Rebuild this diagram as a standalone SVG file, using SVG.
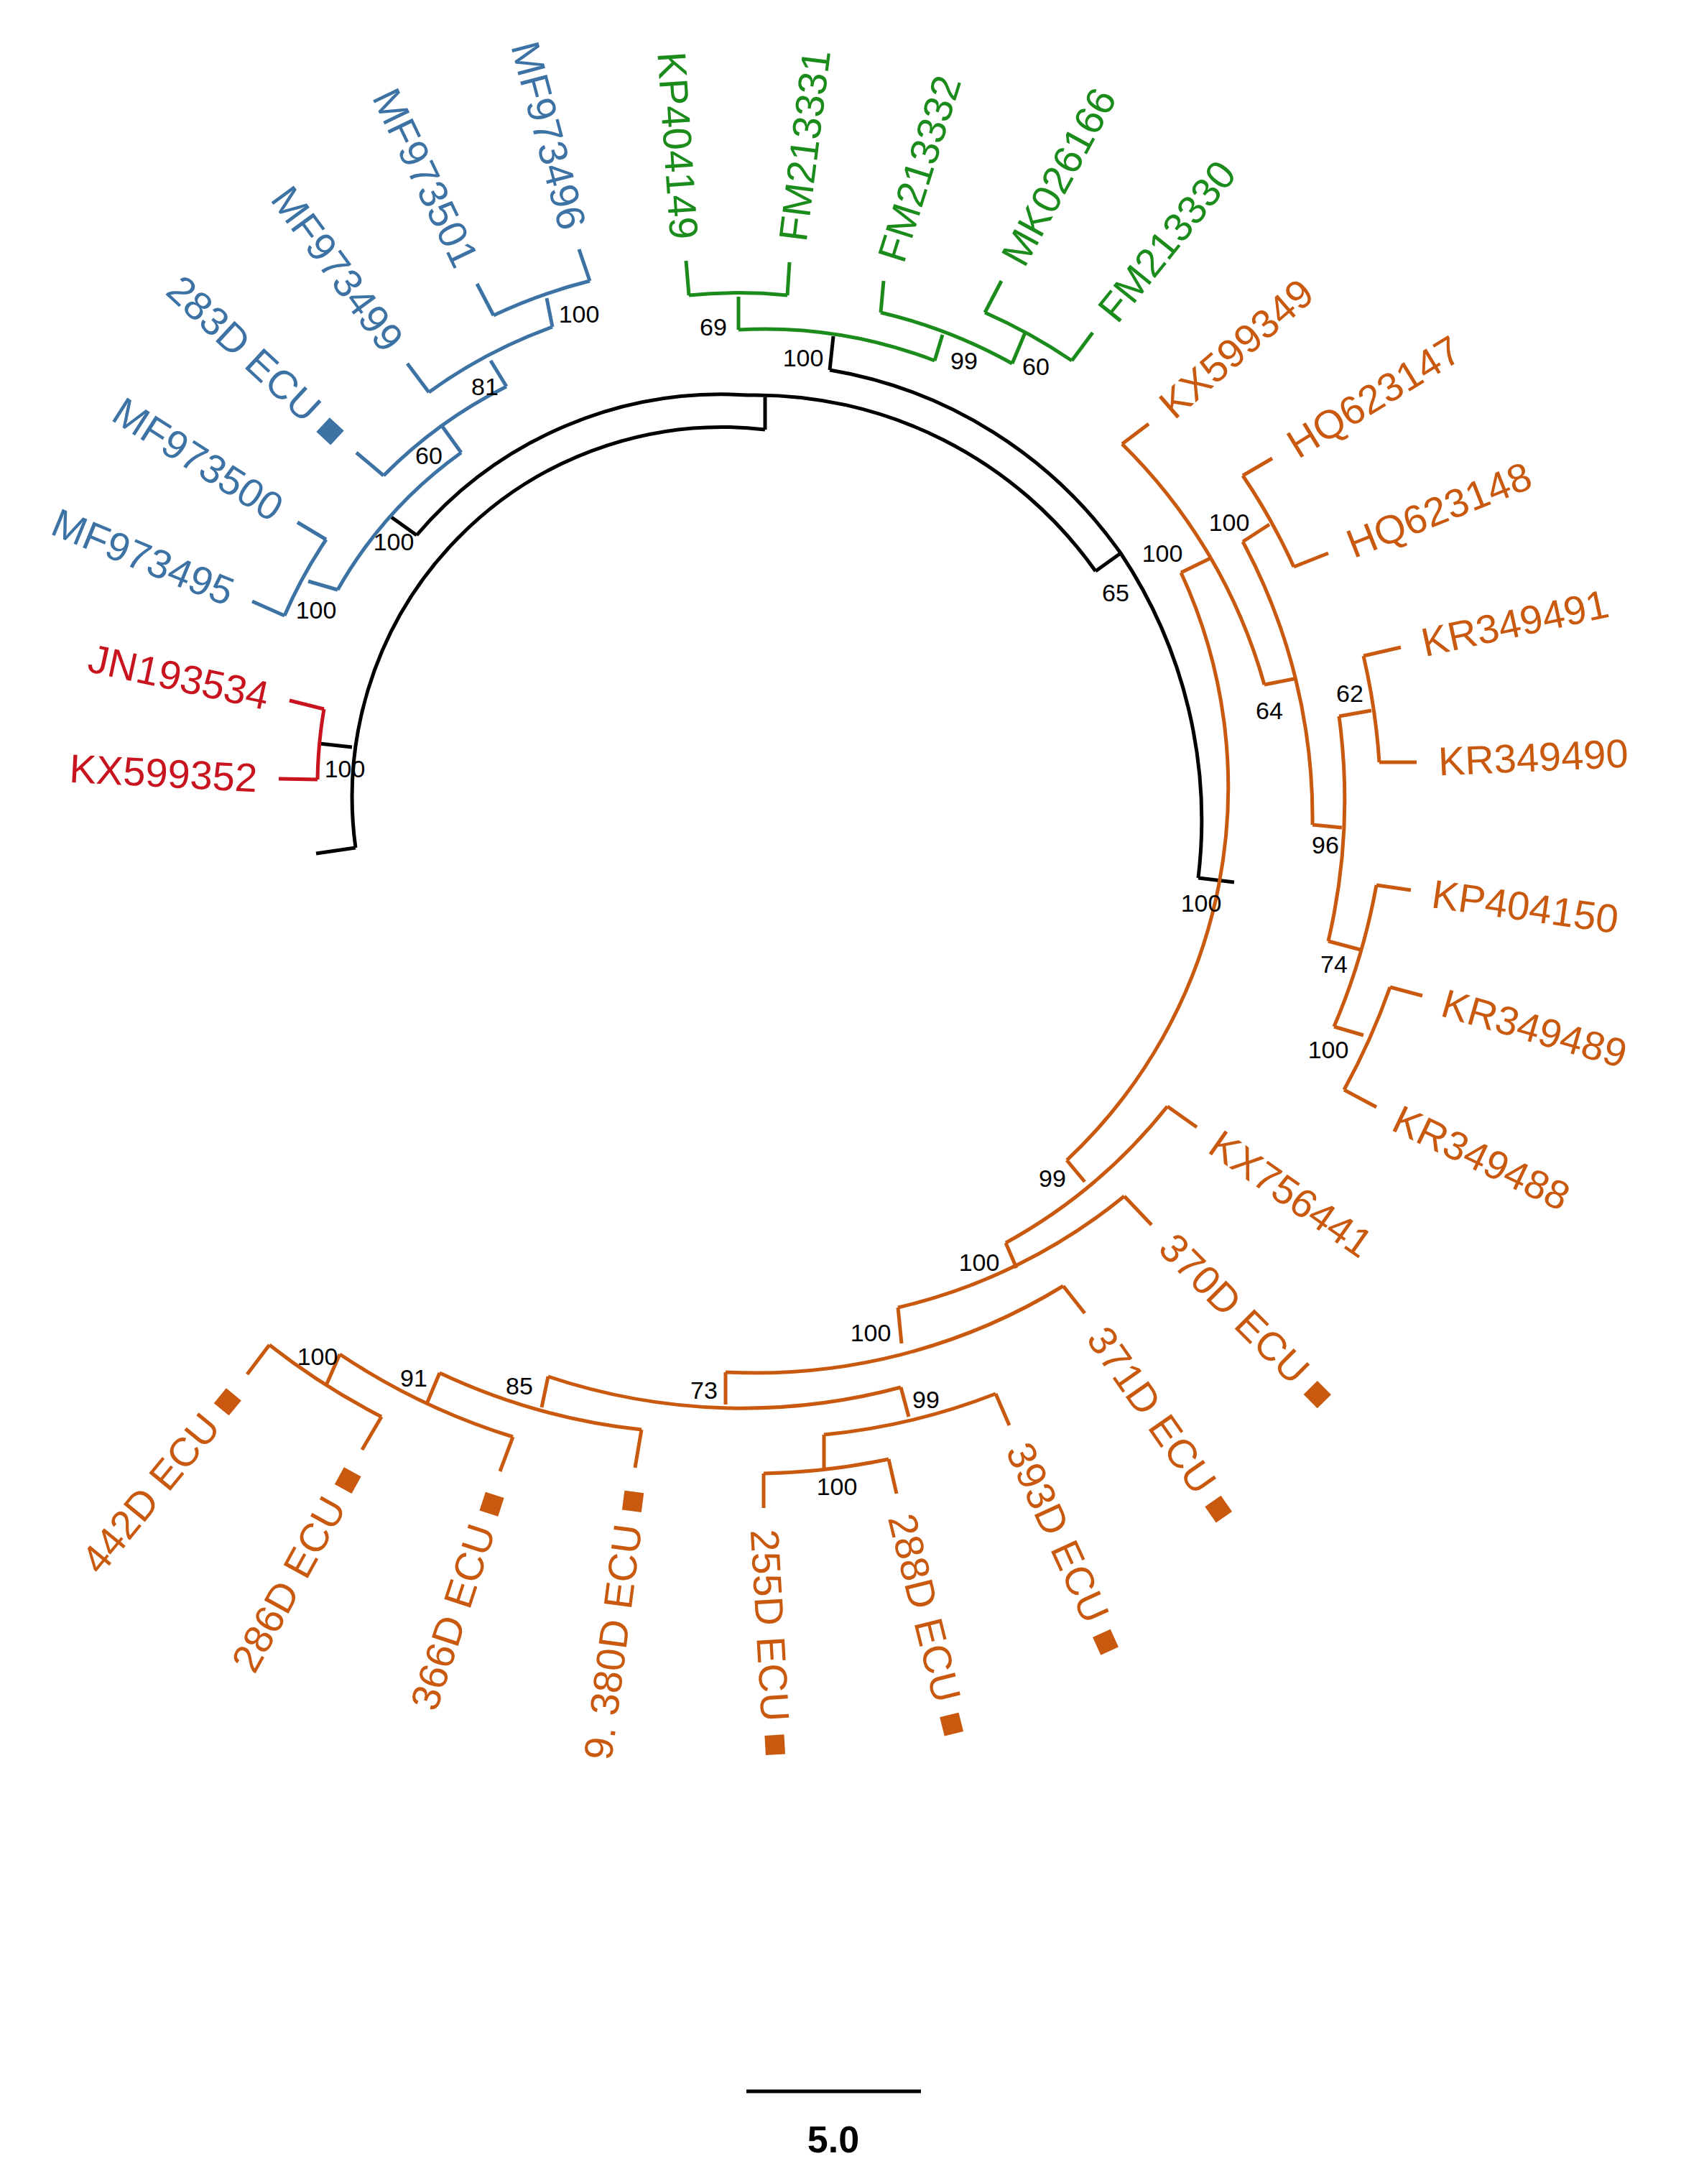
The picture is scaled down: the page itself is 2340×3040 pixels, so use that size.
<svg xmlns="http://www.w3.org/2000/svg" width="2340" height="3040" viewBox="0 0 2340 3040">
<style>
.k{fill:none;stroke:#000;stroke-width:5}
.r{fill:none;stroke:#c8141e;stroke-width:5}
.b{fill:none;stroke:#3d72a4;stroke-width:5}
.g{fill:none;stroke:#1b8c1b;stroke-width:5}
.o{fill:none;stroke:#c8590f;stroke-width:5}
.n{font-family:"Liberation Sans",Arial,sans-serif;font-size:34px;fill:#000;text-anchor:middle}
.lab{font-family:"Liberation Sans","DejaVu Sans",sans-serif;font-size:56px}
.tr{fill:#c8141e}.tb{fill:#3d72a4}.tg{fill:#1b8c1b}.to{fill:#c8590f}
.R{text-anchor:start}.L{text-anchor:end}
</style>
<rect width="2340" height="3040" fill="#fff"/>
<g id="connectors">
<path class="k" d="M495 1180 L440 1188 M495 1180 A515 515 0 0 1 1065 598 M490 1040 L445 1035 M1065 598 L1065 550 M580 745 A557 557 0 0 1 1040 550 A580 580 0 0 1 1525 795 M580 745 L545 720 M1525 795 L1560 770 M1155 515 A620 620 0 0 1 1560 770 A670 670 0 0 1 1668 1222 M1155 515 L1160 468 M1668 1222 L1718 1228"/>
<path class="r" d="M442 1085 A630 630 0 0 1 451 987 M451 987 L403 975 M442 1085 L388 1084"/>
<path class="b" d="M470 821 A600 600 0 0 1 642 630 M470 821 L429 809 M396 857 A650 650 0 0 1 454 751 M396 857 L351 837 M454 751 L414 727 M642 630 L616 594 M534 662 A645 645 0 0 1 705 538 M534 662 L496 630 M705 538 L683 502 M597 546 A690 690 0 0 1 769 455 M597 546 L567 506 M769 455 L761 415 M687 439 A735 735 0 0 1 821 391 M687 439 L664 395 M821 391 L806 347"/>
<path class="g" d="M1028 459 A660 660 0 0 1 1301 502 M1028 459 L1028 413 M959 411 A695 695 0 0 1 1096 411 M959 411 L955 363 M1096 411 L1099 365 M1301 502 L1312 466 M1226 435 A712 712 0 0 1 1409 506 M1226 435 L1230 391 M1409 506 L1427 463 M1371 435 A765 765 0 0 1 1492 502 M1371 435 L1394 391 M1492 502 L1521 463"/>
<path class="o" d="M1644 797 A712 712 0 0 1 1485 1615 M1644 797 L1685 777 M1562 618 A755 755 0 0 1 1760 953 M1562 618 L1599 590 M1760 953 L1801 945 M1730 754 A812 812 0 0 1 1827 1148 M1730 754 L1767 730 M1730 662 A852 852 0 0 1 1801 789 M1730 662 L1771 638 M1801 789 L1849 770 M1827 1148 L1868 1152 M1864 997 A866 866 0 0 1 1849 1310 M1864 997 L1909 989 M1898 913 A914 914 0 0 1 1920 1061 M1898 913 L1950 901 M1920 1061 L1972 1061 M1849 1310 L1894 1322 M1916 1232 A915 915 0 0 1 1857 1429 M1916 1232 L1964 1239 M1857 1429 L1898 1441 M1935 1374 A960 960 0 0 1 1871 1517 M1935 1374 L1980 1386 M1871 1517 L1916 1541"/>
<path class="o" d="M1485 1615 L1510 1645 M1625 1540 A750 750 0 0 1 1400 1730 M1625 1540 L1666 1569 M1400 1730 L1415 1765 M1565 1665 A775 775 0 0 1 1250 1820 M1565 1665 L1603 1705 M1250 1820 L1255 1870 M1480 1790 A820 820 0 0 1 1010 1910 M1480 1790 L1510 1828 M1010 1910 L1010 1955 M1254 1931 A850 850 0 0 1 763 1916 M1254 1931 L1265 1972 M1386 1940 A890 890 0 0 1 1147 1997 M1386 1940 L1405 1984 M1147 1997 L1147 2043 M1237 2031 A940 940 0 0 1 1063 2051 M1237 2031 L1248 2079 M1063 2051 L1063 2099 M763 1916 L754 1959 M893 1990 A880 880 0 0 1 612 1911 M893 1990 L884 2043 M612 1911 L594 1954 M714 2000 A930 930 0 0 1 473 1885 M714 2000 L696 2048 M473 1885 L455 1926 M531 1972 A970 970 0 0 1 375 1872 M531 1972 L504 2018 M375 1872 L344 1913"/>
</g>
<g id="support">
<text class="n" x="480" y="1082">100</text>
<text class="n" x="548" y="766">100</text>
<text class="n" x="1118" y="510">100</text>
<text class="n" x="1553" y="837">65</text>
<text class="n" x="1672" y="1269">100</text>
<text class="n" x="440" y="861">100</text>
<text class="n" x="597" y="646">60</text>
<text class="n" x="675" y="550">81</text>
<text class="n" x="806" y="449">100</text>
<text class="n" x="993" y="467">69</text>
<text class="n" x="1342" y="514">99</text>
<text class="n" x="1442" y="522">60</text>
<text class="n" x="1618" y="782">100</text>
<text class="n" x="1711" y="739">100</text>
<text class="n" x="1767" y="1001">64</text>
<text class="n" x="1879" y="977">62</text>
<text class="n" x="1845" y="1188">96</text>
<text class="n" x="1857" y="1354">74</text>
<text class="n" x="1849" y="1473">100</text>
<text class="n" x="1465" y="1652">99</text>
<text class="n" x="1363" y="1769">100</text>
<text class="n" x="1212" y="1867">100</text>
<text class="n" x="980" y="1947">73</text>
<text class="n" x="1289" y="1960">99</text>
<text class="n" x="1165" y="2081">100</text>
<text class="n" x="723" y="1941">85</text>
<text class="n" x="576" y="1930">91</text>
<text class="n" x="442" y="1900">100</text>
</g>
<g id="red-leaves" class="lab tr">
<text class="L" transform="translate(388,1084) rotate(3)" x="-30" y="20">KX599352</text>
<text class="L" transform="translate(403,975) rotate(12.2)" x="-30" y="20">JN193534</text>
</g>
<g id="blue-leaves" class="lab tb">
<text class="L" transform="translate(351,837) rotate(22.3)" x="-30" y="20">MF973495</text>
<text class="L" transform="translate(414,727) rotate(32.6)" x="-30" y="20">MF973500</text>
<text class="L" transform="translate(496,630) rotate(43)" x="-30" y="20">283D ECU ■</text>
<text class="L" transform="translate(567,506) rotate(53.8)" x="-30" y="20">MF973499</text>
<text class="L" transform="translate(664,395) rotate(64.4)" x="-30" y="20">MF973501</text>
<text class="L" transform="translate(806,347) rotate(75.3)" x="-30" y="20">MF973496</text>
</g>
<g id="green-leaves" class="lab tg">
<text class="L" transform="translate(955,363) rotate(86.1)" x="-30" y="20">KP404149</text>
<text class="R" transform="translate(1099,365) rotate(-82.8)" x="30" y="20">FM213331</text>
<text class="R" transform="translate(1230,391) rotate(-72.5)" x="30" y="20">FM213332</text>
<text class="R" transform="translate(1394,391) rotate(-61.4)" x="30" y="20">MK026166</text>
<text class="R" transform="translate(1521,463) rotate(-51.2)" x="30" y="20">FM213330</text>
</g>
<g id="orange-leaves" class="lab to">
<text class="R" transform="translate(1599,590) rotate(-40.9)" x="30" y="20">KX599349</text>
<text class="R" transform="translate(1771,638) rotate(-31.4)" x="30" y="20">HQ623147</text>
<text class="R" transform="translate(1849,770) rotate(-21.6)" x="30" y="20">HQ623148</text>
<text class="R" transform="translate(1950,901) rotate(-12.2)" x="30" y="20">KR349491</text>
<text class="R" transform="translate(1972,1061) rotate(-2.6)" x="30" y="20">KR349490</text>
<text class="R" transform="translate(1964,1239) rotate(8)" x="30" y="20">KP404150</text>
<text class="R" transform="translate(1980,1386) rotate(16.1)" x="30" y="20">KR349489</text>
<text class="R" transform="translate(1916,1541) rotate(25.6)" x="30" y="20">KR349488</text>
<text class="R" transform="translate(1666,1569) rotate(35.1)" x="30" y="20">KX756441</text>
<text class="R" transform="translate(1603,1705) rotate(45.1)" x="30" y="20">370D ECU ■</text>
<text class="R" transform="translate(1510,1828) rotate(55.1)" x="30" y="20">371D ECU ■</text>
<text class="R" transform="translate(1405,1984) rotate(65.5)" x="30" y="20">393D ECU ■</text>
<text class="R" transform="translate(1248,2079) rotate(76)" x="30" y="20">288D ECU ■</text>
<text class="R" transform="translate(1063,2099) rotate(86.7)" x="30" y="20">255D ECU ■</text>
<text class="L" transform="translate(884,2043) rotate(-82.6)" x="-30" y="20">9. 380D ECU ■</text>
<text class="L" transform="translate(696,2048) rotate(-71.9)" x="-30" y="20">366D ECU ■</text>
<text class="L" transform="translate(504,2018) rotate(-61.2)" x="-30" y="20">286D ECU ■</text>
<text class="L" transform="translate(344,1913) rotate(-50.7)" x="-30" y="20">442D ECU ■</text>
</g>
<g id="scale-bar">
<line x1="1039" y1="2911" x2="1282" y2="2911" stroke="#000" stroke-width="5"/>
<text x="1160" y="2996" font-family="Liberation Sans,Arial,sans-serif" font-size="52" font-weight="bold" text-anchor="middle">5.0</text>
</g>
</svg>
